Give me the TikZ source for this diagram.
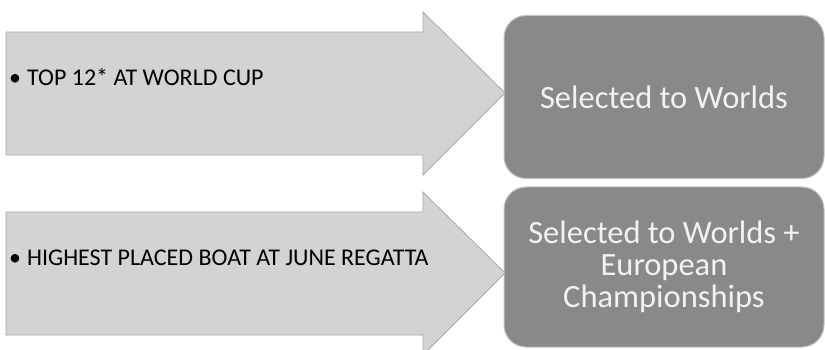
\documentclass[tikz,border=0pt]{standalone}
\usepackage{fontspec}
\setmainfont{Carlito}
\definecolor{arrowgray}{HTML}{D3D3D3}
\definecolor{arrowline}{HTML}{A8A8A8}
\definecolor{boxgray}{HTML}{898989}
\definecolor{boxline}{HTML}{C4C4C4}
\definecolor{boxtext}{HTML}{F2F2F2}
\tikzset{
  arrowshape/.style={fill=arrowgray, draw=arrowline, line width=0.8pt},
  resultbox/.style={rectangle, rounded corners=22pt, fill=boxgray, draw=boxline, line width=1pt,
    minimum width=320pt, minimum height=163pt, align=center, text=boxtext,
    font=\fontsize{32.5}{32}\selectfont},
  criterion/.style={anchor=west, inner sep=0pt, font=\fontsize{24}{26}\selectfont, text=black}
}
\begin{document}
\begin{tikzpicture}[x=1pt,y=-1pt]
\useasboundingbox (0,0) rectangle (825,350);
\begin{scope}
\clip (0,0) rectangle (825,350);
% upper arrow
\draw[arrowshape] (6,32)--(423,32)--(423,12)--(505,93)--(423,175)--(423,155)--(6,155)--cycle;
% lower arrow
\draw[arrowshape] (6,212)--(423,212)--(423,192)--(505,273)--(423,355)--(423,335)--(6,335)--cycle;
\end{scope}
\node[criterion] (crit1) at (9,77) {\textbullet\hspace{6pt}TOP 12* AT WORLD CUP};
\node[criterion] (crit2) at (9,258) {\textbullet\hspace{6pt}HIGHEST PLACED BOAT AT JUNE REGATTA};

\node[resultbox] (worlds) at (664,97) {Selected to Worlds};
\node[resultbox, minimum height=160pt] (euros) at (664,267) {Selected to Worlds +\\European\\Championships};
\end{tikzpicture}
\end{document}
